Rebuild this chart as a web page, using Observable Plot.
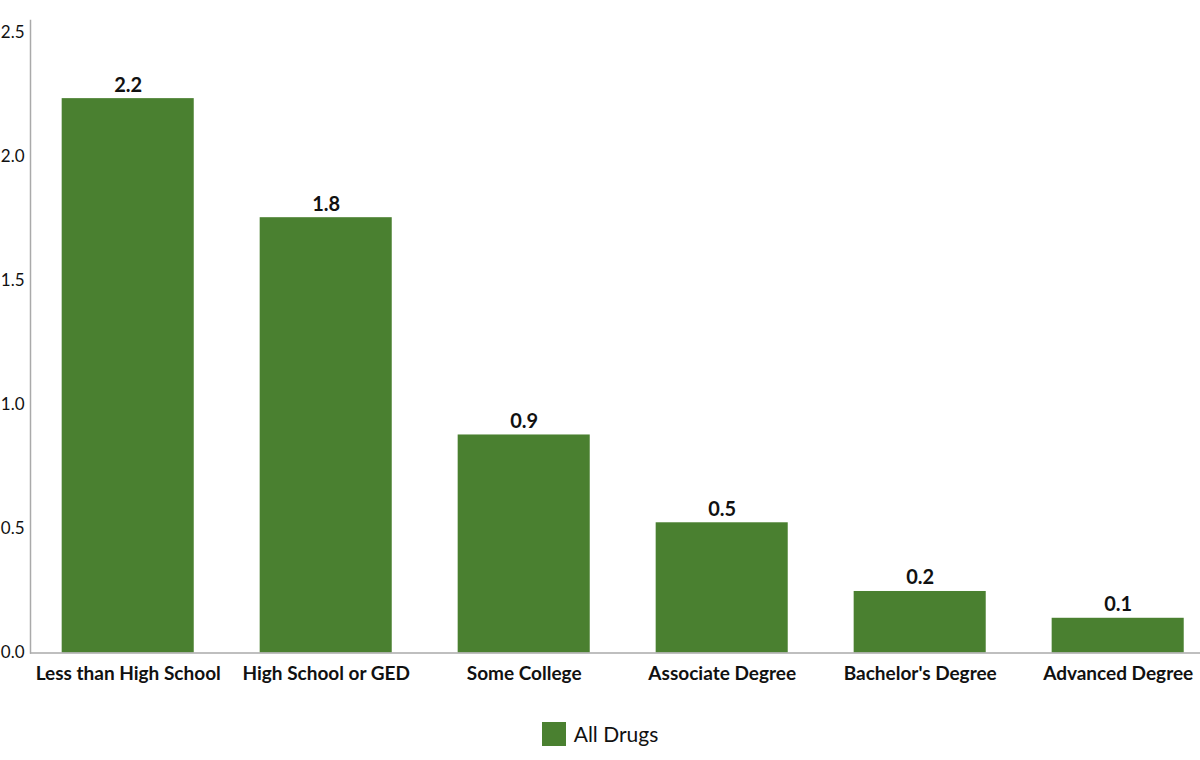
<!DOCTYPE html>
<html>
<head>
<meta charset="utf-8">
<script src="https://cdn.jsdelivr.net/npm/d3@7"></script>
<script src="https://cdn.jsdelivr.net/npm/@observablehq/plot@0.6"></script>
<style>
  html, body { margin: 0; padding: 0; background: #fff; }
  body { width: 1200px; height: 760px; overflow: hidden; font-family: Lato, "Open Sans", sans-serif; }
  #legend { display: flex; justify-content: center; align-items: center; gap: 8px; margin-top: 21px; font-size: 21px; color: #111; }
  #legend .sw { width: 24px; height: 24px; background: #4a8030; }
</style>
</head>
<body>
<div id="chart"></div>
<div id="legend"><span class="sw"></span><span>All Drugs</span></div>
<script>
const categories = ["Less than High School", "High School or GED", "Some College", "Associate Degree", "Bachelor's Degree", "Advanced Degree"];
const values = [2.235, 1.755, 0.879, 0.525, 0.248, 0.14];
const yTicks = [0, 0.5, 1.0, 1.5, 2.0, 2.5];
const seriesName = "All Drugs";
const barColor = "#4a8030";

const data = categories.map((c, i) => ({category: c, value: values[i]}));
const fmt = d3.format(".1f");

const chart = Plot.plot({
  width: 1200,
  height: 700,
  marginTop: 20,
  marginBottom: 47.5,
  marginLeft: 30,
  marginRight: -15.4,
  style: {fontFamily: "Lato, 'Open Sans', sans-serif", color: "#111", background: "#fff"},
  x: {domain: categories, paddingInner: 0.333, paddingOuter: 0.16, round: false, label: null},
  y: {domain: [0, 2.55], label: null},
  marks: [
    Plot.barY(data, {x: "category", y: "value", fill: barColor}),
    Plot.text(data, {x: "category", y: "value", text: d => fmt(d.value), lineAnchor: "bottom", dy: -7, fontSize: 20, fontWeight: "bold", fill: "#111"}),
    Plot.frame({anchor: "left", stroke: "#aaa", strokeWidth: 1.5}),
    Plot.ruleY([0], {stroke: "#aaa", strokeWidth: 1.5}),
    Plot.axisY({ticks: yTicks, tickFormat: fmt, tickSize: 0, tickPadding: 6, fontSize: 17, label: null}),
    Plot.axisX({tickSize: 0, tickPadding: 13, fontSize: 19, fontWeight: "bold", label: null})
  ]
});
document.getElementById("chart").appendChild(chart);
</script>
</body>
</html>
